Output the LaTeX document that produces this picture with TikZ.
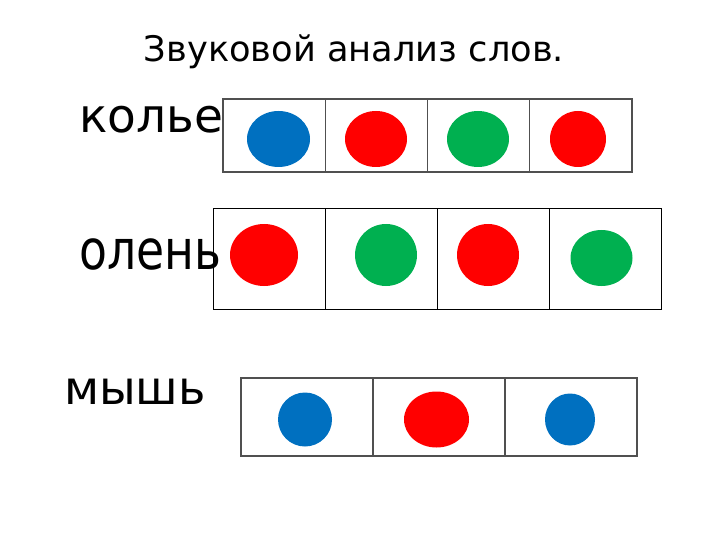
\documentclass[tikz,border=0pt]{standalone}
\usepackage{fontspec}
\setmainfont{DejaVu Sans}
\usepackage{xcolor}
\usepackage{tikz}
\usetikzlibrary{shapes.geometric}
\definecolor{sndblue}{HTML}{0070C0}
\definecolor{sndred}{HTML}{FF0000}
\definecolor{sndgreen}{HTML}{00B050}
\definecolor{framegray}{HTML}{505050}
\tikzstyle{cell} = [draw, rectangle, inner sep=0pt, outer sep=0pt]
\tikzstyle{dot} = [ellipse, inner sep=0pt, outer sep=0pt]

\begin{document}
\begin{tikzpicture}[x=1pt, y=-1pt,
				word/.style= {anchor=base west, inner sep=0pt},
				row1/.style= {cell, draw=framegray, line width=1.3pt, minimum width=102.25, minimum height=73},
				row2/.style= {cell, draw=black, line width=0.9pt, minimum width=112, minimum height=101},
				row3/.style= {cell, draw=framegray, line width=1.3pt, minimum width=132, minimum height=78}
			]
			\useasboundingbox (0,0) rectangle (720,540);
			
			\node (title) [anchor=base, inner sep=0pt, font={\fontsize{35.2}{42}\selectfont}] at (354,62) {Звуковой анализ слов.};
			
			% колье
			\node (w1) [word, font={\fontsize{47}{56}\selectfont}] at (79,133) {колье};
			\foreach \a in {1,2,3,4}{
				\node (c1\a) [row1] at (223+102.25*\a-51.125, 135.5) {};
			}
			\draw [framegray, line width=2pt] (c11.south west) -- (c14.south east);
			\foreach \x/\rx/\ry/\c [count=\a] in {278.5/63/56/sndblue, 376/62/56/sndred, 478/62/56/sndgreen, 578/56/56/sndred}{
				\node (d1\a) [dot, fill=\c, minimum width=\rx, minimum height=\ry] at (\x,139) {};
			}
			
			% олень
			\node (w2) [word, font={\fontsize{55}{66}\selectfont}] at (79,269.5) {\scalebox{0.83}[1]{олень}};
			\foreach \a in {1,2,3,4}{
				\node (c2\a) [row2] at (213+112*\a-56, 258.5) {};
			}
			\foreach \x/\y/\rx/\ry/\c [count=\a] in {264/255/68/62/sndred, 386/255/62/62/sndgreen, 488/255/62/62/sndred, 601.5/258/62/56/sndgreen}{
				\node (d2\a) [dot, fill=\c, minimum width=\rx, minimum height=\ry] at (\x,\y) {};
			}
			
			% мышь
			\node (w3) [word, font={\fontsize{46.5}{55}\selectfont}] at (64,404) {мышь};
			\foreach \a in {1,2,3}{
				\node (c3\a) [row3] at (241+132*\a-66, 417) {};
			}
			\foreach \x/\rx/\ry/\c [count=\a] in {305/54/54/sndblue, 436.5/65/56/sndred, 570/50/52/sndblue}{
				\node (d3\a) [dot, fill=\c, minimum width=\rx, minimum height=\ry] at (\x,419.5) {};
			}
		\end{tikzpicture}
\end{document}
